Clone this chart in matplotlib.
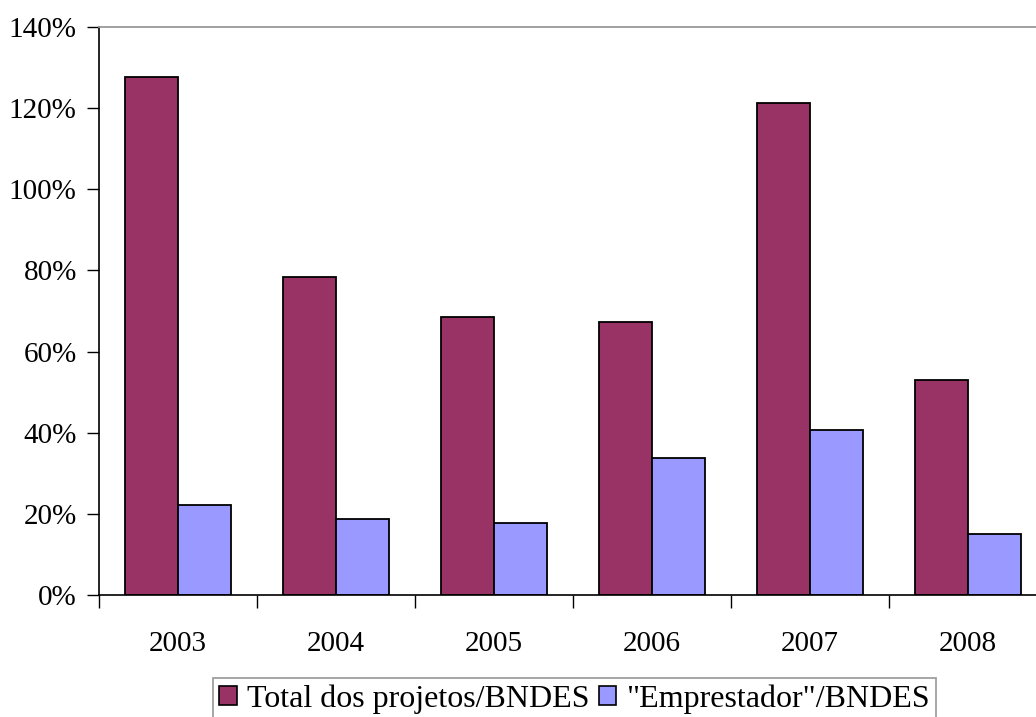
import matplotlib
matplotlib.use("Agg")
import matplotlib.pyplot as plt
import numpy as np
from matplotlib.ticker import FixedLocator, FuncFormatter

years = ["2003", "2004", "2005", "2006", "2007", "2008"]
total_projetos = [127.6, 78.5, 68.6, 67.3, 121.3, 53.0]
emprestador = [22.2, 18.7, 17.7, 33.7, 40.7, 15.0]
labels = ["Total dos projetos/BNDES", '"Emprestador"/BNDES']
colors = ["#993366", "#9999FF"]

plt.rcParams['font.family'] = ['Liberation Serif', 'DejaVu Serif']

W, H = 1036, 717
fig = plt.figure(figsize=(W / 100, H / 100), dpi=100)
ax = fig.add_axes([99 / W, 1 - 595 / H, 948 / W, (595 - 27) / H])

x = np.arange(len(years))
bw = 1 / 3
ax.bar(x - bw / 2, total_projetos, bw, color=colors[0], edgecolor="black", linewidth=1.3, label=labels[0])
ax.bar(x + bw / 2, emprestador, bw, color=colors[1], edgecolor="black", linewidth=1.3, label=labels[1])

ax.set_xlim(-0.5, len(years) - 0.5)
ax.set_ylim(0, 140)
ax.set_yticks(np.arange(0, 141, 20))
ax.yaxis.set_major_formatter(FuncFormatter(lambda v, p: f"{int(v)}%"))
ax.xaxis.set_major_locator(FixedLocator(np.arange(-0.5, len(years), 1)))
ax.xaxis.set_major_formatter(FuncFormatter(lambda v, p: ""))
ax.xaxis.set_minor_locator(FixedLocator(x))
ax.set_xticklabels(years, minor=True)
ax.tick_params(axis="x", which="minor", length=0, pad=26, labelsize=21)
ax.tick_params(axis="x", which="major", length=9, width=1, direction="out", color="black")
ax.tick_params(axis="y", length=9, width=1, direction="out", pad=7, labelsize=21)

ax.spines["right"].set_visible(False)
ax.spines["top"].set_color("#999999")
ax.spines["top"].set_linewidth(1.3)
ax.spines["left"].set_linewidth(1.2)
ax.spines["bottom"].set_linewidth(1.2)

leg = ax.legend(loc="upper left", bbox_to_anchor=(213 / W, 1 - 678 / H), bbox_transform=fig.transFigure,
                ncol=2, frameon=True, fancybox=False, fontsize=23, handlelength=0.55, handleheight=0.55,
                handletextpad=0.3, columnspacing=0.3, borderpad=0.2, borderaxespad=0)
leg.get_frame().set_edgecolor("#888888")
leg.get_frame().set_linewidth(1.3)
for h in leg.legend_handles:
    h.set_linewidth(1.2)

fig.savefig("out.png", dpi=100)
